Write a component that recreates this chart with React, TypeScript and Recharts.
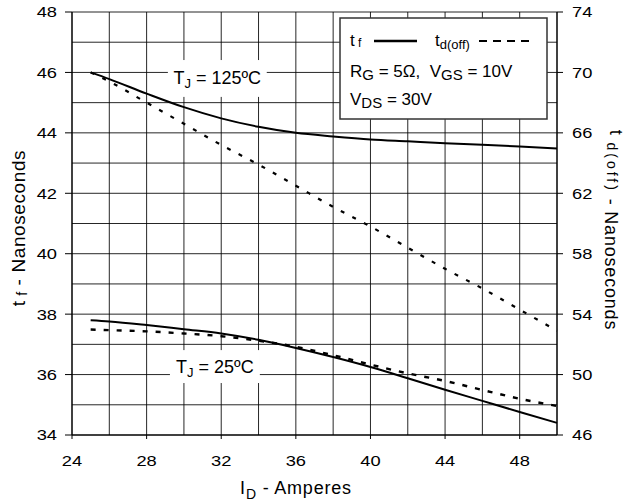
import React from 'react';
import { LineChart, Line, XAxis, YAxis, CartesianGrid } from 'recharts';

// drain current (A)
const currentA = [25, 26, 28, 30, 32, 34, 36, 38, 40, 42, 44, 46, 48, 50];
// fall time tf (ns), left axis
const tf125 = [46.0, 45.78, 45.3, 44.85, 44.48, 44.2, 44.0, 43.88, 43.78, 43.72, 43.66, 43.61, 43.55, 43.48];
const tf25 = [37.8, 37.76, 37.64, 37.5, 37.36, 37.15, 36.88, 36.58, 36.25, 35.88, 35.5, 35.13, 34.76, 34.4];
// turn-off delay td(off) (ns), right axis
const tdoff125 = [70.0, 69.4, 68.0, 66.6, 65.2, 63.9, 62.5, 61.1, 59.8, 58.4, 57.0, 55.7, 54.3, 52.9];
const tdoff25 = [52.98, 52.94, 52.86, 52.72, 52.54, 52.24, 51.84, 51.28, 50.66, 50.08, 49.58, 48.98, 48.4, 47.92];

const xTicks = [24, 28, 32, 36, 40, 44, 48];
const xGrid = [26, 28, 30, 32, 34, 36, 38, 40, 42, 44, 46, 48];
const tfTicks = [34, 36, 38, 40, 42, 44, 46, 48];
const tfGrid = [35, 36, 37, 38, 39, 40, 41, 42, 43, 44, 45, 46, 47, 48];
const tdTicks = [46, 50, 54, 58, 62, 66, 70, 74];

// white label boxes for the temperature notes (data units, left axis)
const notes = [
  { temp: '125', x1: 29.14, x2: 34.44, y1: 45.19, y2: 46.41 },
  { temp: '25', x1: 29.25, x2: 34.07, y1: 35.72, y2: 36.81 },
];

const data = currentA.map((x, i) => ({
  x,
  tf125: tf125[i],
  tf25: tf25[i],
  td125: tdoff125[i],
  td25: tdoff25[i],
}));

const FONT = '"Liberation Sans", Arial, sans-serif';

// plot box, same as the chart margins / axis sizes below
const PLOT = { left: 72, right: 557, top: 12, bottom: 435 };
const px = (v: number) => PLOT.left + ((v - 24) / 26) * (PLOT.right - PLOT.left);
const py = (v: number) => PLOT.bottom - ((v - 34) / 14) * (PLOT.bottom - PLOT.top);

const Tick = (props: any) => {
  const { x, y, payload, anchor, dy } = props;
  return (
    <text
      transform={`translate(${x},${y}) scale(1.22,1)`}
      dy={dy}
      textAnchor={anchor}
      fontSize={15}
      fontFamily={FONT}
      fill="#000"
    >
      {payload.value}
    </text>
  );
};

const XTitle = () => (
  <text x={296} y={494} textAnchor="middle" fontSize={18} fontFamily={FONT} fill="#000" letterSpacing={0.8}>
    I<tspan fontSize={14} dy={5}>D</tspan>
    <tspan dy={-5}> - Amperes</tspan>
  </text>
);

const LeftTitle = () => (
  <text
    transform="translate(25,228) rotate(-90)"
    textAnchor="middle"
    fontSize={19}
    fontFamily={FONT}
    fill="#000"
    letterSpacing={0.6}
  >
    t<tspan fontSize={14} dy={2}> f</tspan>
    <tspan dy={-2}> - Nanoseconds</tspan>
  </text>
);

const RightTitle = () => (
  <text
    transform="translate(605,230) rotate(90)"
    textAnchor="middle"
    fontSize={18}
    fontFamily={FONT}
    fill="#000"
    letterSpacing={0.8}
  >
    <tspan dy={-5}>t</tspan>
    <tspan fontSize={14} dy={3} letterSpacing={3}> d(off)</tspan>
    <tspan dy={2}> - Nanoseconds</tspan>
  </text>
);

const Overlay = () => (
  <svg
    width={628}
    height={503}
    style={{ position: 'absolute', left: 0, top: 0, pointerEvents: 'none' }}
  >
    {notes.map((n) => {
      const x = px(n.x1);
      const y = py(n.y2);
      const w = px(n.x2) - x;
      const h = py(n.y1) - y;
      return (
        <g key={n.temp}>
          <rect x={x} y={y} width={w} height={h} fill="#fff" />
          <text x={x + w / 2} y={y + h / 2 + 6} textAnchor="middle" fontSize={18} fontFamily={FONT} fill="#000">
            T<tspan fontSize={13} dy={4}>J</tspan>
            <tspan dy={-4}>{` = ${n.temp}ºC`}</tspan>
          </text>
        </g>
      );
    })}
    <rect x={340} y={18} width={207} height={101} fill="#fff" stroke="#333" strokeWidth={1.5} />
    <g fontFamily={FONT} fontSize={17} fill="#000">
      <text x={350} y={46}>
        t<tspan fontSize={12} dy={1}>{'\u00A0f'}</tspan>
      </text>
      <line x1={374} x2={417} y1={41} y2={41} stroke="#000" strokeWidth={2.5} />
      <text x={435} y={46}>
        t<tspan fontSize={13} dy={3}>d(off)</tspan>
      </text>
      <line x1={479} x2={531} y1={41} y2={41} stroke="#000" strokeWidth={2} strokeDasharray="8 6" />
      <text x={350} y={77}>
        R<tspan fontSize={15} dy={3}>G</tspan>
        <tspan dy={-3}>{' = 5Ω,\u00A0 V'}</tspan>
        <tspan fontSize={15} dy={3}>GS</tspan>
        <tspan dy={-3}> = 10V</tspan>
      </text>
      <text x={350} y={105}>
        V<tspan fontSize={15} dy={3}>DS</tspan>
        <tspan dy={-3}> = 30V</tspan>
      </text>
    </g>
  </svg>
);

const App = () => {
  return (
    <div style={{ position: 'absolute', left: 0, top: 0, width: 628, height: 503, background: '#fff' }}>
      <LineChart width={628} height={503} data={data} margin={{ top: 12, right: 0, bottom: 0, left: 0 }}>
        <CartesianGrid
          yAxisId="left"
          horizontalValues={tfGrid}
          verticalValues={xGrid}
          stroke="#000"
          strokeWidth={1}
          strokeOpacity={0.85}
        />
        <XAxis
          dataKey="x"
          type="number"
          domain={[24, 50]}
          ticks={xTicks}
          height={68}
          tickSize={4}
          tickMargin={16}
          axisLine={{ stroke: '#000', strokeWidth: 1.5 }}
          tickLine={{ stroke: '#000' }}
          tick={<Tick anchor="middle" dy="0.71em" />}
          label={<XTitle />}
        />
        <YAxis
          yAxisId="left"
          type="number"
          domain={[34, 48]}
          ticks={tfTicks}
          width={72}
          tickSize={7}
          tickMargin={8}
          axisLine={{ stroke: '#000', strokeWidth: 1.5 }}
          tickLine={{ stroke: '#000' }}
          tick={<Tick anchor="end" dy="0.36em" />}
          label={<LeftTitle />}
        />
        <YAxis
          yAxisId="right"
          orientation="right"
          type="number"
          domain={[46, 74]}
          ticks={tdTicks}
          width={71}
          tickSize={6}
          tickMargin={9}
          axisLine={{ stroke: '#000', strokeWidth: 1.5 }}
          tickLine={{ stroke: '#000' }}
          tick={<Tick anchor="start" dy="0.36em" />}
          label={<RightTitle />}
        />
        <Line yAxisId="left" type="monotone" dataKey="tf125" stroke="#000" strokeWidth={2} dot={false} isAnimationActive={false} />
        <Line yAxisId="left" type="monotone" dataKey="tf25" stroke="#000" strokeWidth={2} dot={false} isAnimationActive={false} />
        <Line yAxisId="right" type="monotone" dataKey="td125" stroke="#000" strokeWidth={2.2} strokeDasharray="4 9" dot={false} isAnimationActive={false} />
        <Line yAxisId="right" type="monotone" dataKey="td25" stroke="#000" strokeWidth={2.4} strokeDasharray="5 8" dot={false} isAnimationActive={false} />
      </LineChart>
      <Overlay />
    </div>
  );
};

export default App;
